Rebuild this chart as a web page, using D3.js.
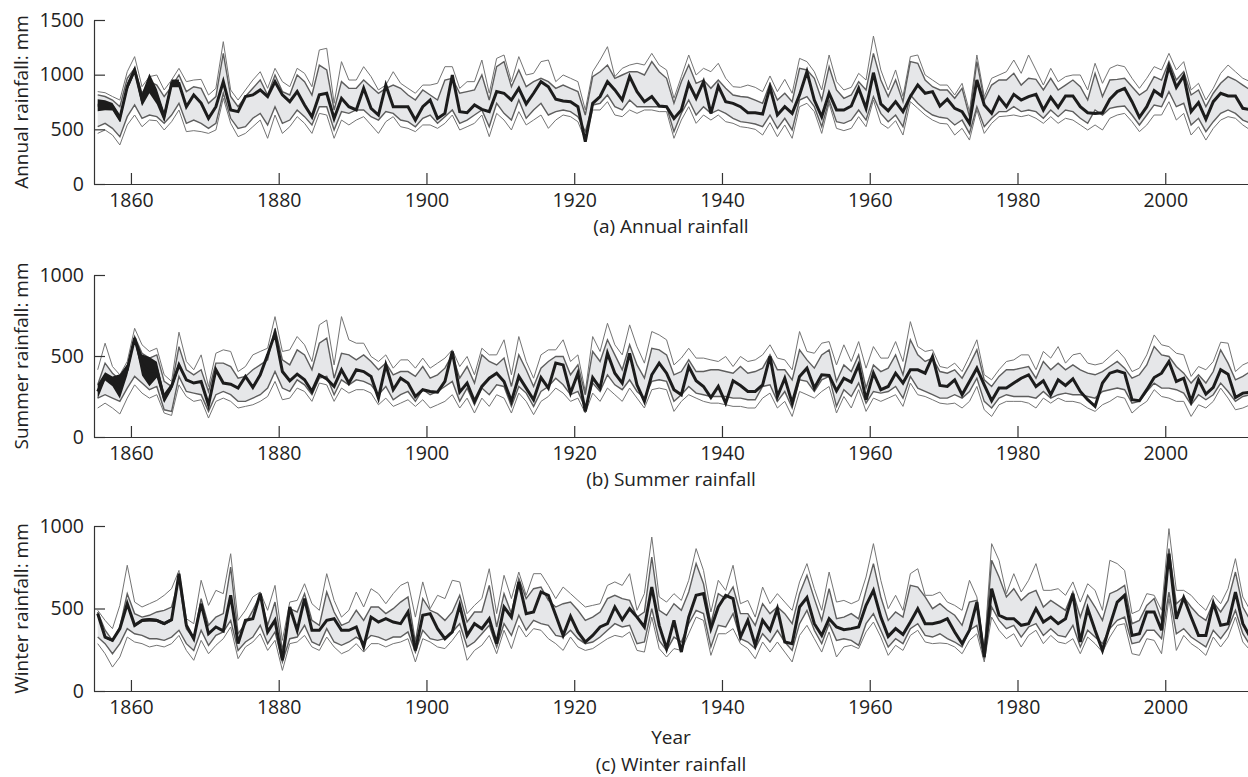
<!DOCTYPE html>
<html lang="en">

<head>
    <meta charset="UTF-8">
    <title>Rainfall reconstructions</title>
    <script src="https://d3js.org/d3.v7.min.js"></script>
    <style>
        body { margin: 0; background: #fff; }
        svg { display: block; font-family: "Open Sans", sans-serif; }
        .band { fill: #e6e7e9; stroke: none; }
        .outer { fill: none; stroke: #747474; stroke-width: 1; }
        .inner { fill: none; stroke: #5e5e5e; stroke-width: 1.4; }
        .obs { fill: none; stroke: #1c1c1c; stroke-width: 3; }
        .spread { fill: #1c1c1c; stroke: none; }
        .axis path, .axis line { stroke: #333; stroke-width: 1.2; }
        .axis text { fill: #222; font-family: "Open Sans", sans-serif; }
        .label { font-size: 19px; fill: #222; }
    </style>
</head>

<body>
    <script>
        // Years 1855-2011, each value plotted at the middle of its year
        var firstYear = 1855;
        var xTicks = [1860, 1880, 1900, 1920, 1940, 1960, 1980, 2000];
        var annualTicks = [0, 500, 1000, 1500];
        var seasonTicks = [0, 500, 1000];

        // (a) Annual rainfall, mm
        var annualObs = [
            720, 720, 707, 600, 890, 1043, 770, 920, 800, 615,
            920, 920, 707, 815, 740, 600, 707, 936, 677, 662,
            800, 815, 860, 800, 936, 815, 753, 845, 723, 615,
            815, 830, 600, 784, 707, 677, 875, 692, 631, 905,
            707, 707, 707, 585, 707, 768, 600, 646, 997, 662,
            652, 723, 683, 662, 845, 830, 768, 875, 732, 830,
            936, 890, 775, 760, 753, 707, 387, 738, 800, 936,
            860, 768, 982, 845, 753, 800, 713, 707, 600, 677,
            920, 784, 936, 646, 896, 753, 738, 707, 652, 652,
            640, 884, 631, 707, 646, 815, 1027, 768, 615, 830,
            677, 677, 713, 875, 692, 1018, 732, 670, 753, 662,
            800, 905, 830, 845, 713, 775, 692, 662, 555, 951,
            723, 646, 793, 707, 820, 768, 800, 820, 677, 793,
            701, 805, 805, 707, 652, 646, 652, 775, 845, 875,
            753, 610, 707, 854, 805, 1073, 884, 988, 662, 744,
            592, 753, 830, 805, 805, 692, 680
        ];
        var annualSpread = [55, 45, 35, 35, 35, 30, 60, 90, 70, 45, 35, 35];
        var annualHi = [
            845, 835, 800, 768, 1027, 1165, 890, 982, 997, 860,
            951, 1058, 936, 951, 957, 814, 875, 1302, 860, 768,
            860, 951, 1027, 875, 1058, 936, 890, 1058, 1012, 890,
            1226, 1241, 738, 1119, 951, 951, 1073, 982, 860, 905,
            1027, 921, 875, 830, 905, 905, 921, 1073, 1073, 875,
            936, 936, 1134, 830, 1149, 1180, 936, 1165, 997, 1012,
            1119, 1134, 936, 997, 967, 936, 677, 1027, 1134, 1256,
            982, 1058, 1088, 1104, 1088, 1195, 1088, 1043, 784, 982,
            1180, 997, 1058, 1027, 1104, 967, 890, 884, 905, 884,
            845, 988, 845, 957, 830, 1149, 1119, 1027, 860, 1180,
            936, 860, 884, 1012, 951, 1353, 1043, 860, 1043, 800,
            1165, 1180, 997, 951, 905, 905, 814, 921, 662, 1180,
            800, 967, 997, 1027, 1134, 1012, 1180, 1043, 905, 1058,
            936, 982, 997, 997, 860, 1104, 921, 1058, 1088, 1073,
            967, 875, 967, 1073, 1043, 1195, 1043, 1119, 860, 921,
            768, 875, 1012, 1088, 1027, 967, 936
        ];
        var annualQ75 = [
            815, 800, 768, 707, 967, 1058, 830, 936, 905, 800,
            890, 997, 845, 890, 875, 738, 800, 1195, 800, 707,
            800, 875, 951, 814, 997, 845, 814, 997, 936, 814,
            1088, 1043, 677, 936, 875, 875, 951, 890, 830, 875,
            905, 875, 814, 768, 860, 814, 768, 951, 967, 830,
            845, 860, 997, 768, 1073, 1119, 890, 1043, 890, 936,
            967, 936, 875, 905, 875, 845, 631, 982, 1027, 1088,
            967, 997, 1027, 1027, 997, 1119, 1027, 967, 738, 936,
            1088, 921, 951, 875, 951, 875, 814, 800, 793, 768,
            738, 921, 768, 830, 753, 1058, 1043, 967, 768, 1073,
            860, 784, 814, 936, 860, 1195, 951, 800, 951, 753,
            1119, 1104, 951, 890, 860, 860, 784, 875, 616, 1119,
            768, 905, 951, 951, 1012, 905, 967, 957, 860, 967,
            860, 905, 951, 890, 768, 1012, 800, 951, 957, 967,
            890, 814, 860, 982, 951, 1119, 951, 1027, 814, 860,
            707, 830, 921, 982, 951, 905, 860
        ];
        var annualQ25 = [
            525, 555, 509, 433, 616, 723, 600, 631, 616, 555,
            631, 738, 555, 585, 555, 509, 555, 830, 601, 509,
            524, 601, 646, 540, 707, 555, 585, 677, 616, 540,
            707, 707, 494, 662, 646, 677, 677, 616, 585, 662,
            646, 585, 570, 524, 601, 631, 555, 616, 677, 555,
            585, 631, 677, 524, 738, 646, 585, 768, 601, 677,
            738, 631, 662, 677, 662, 616, 479, 723, 738, 814,
            707, 677, 768, 707, 707, 707, 707, 707, 479, 646,
            768, 631, 707, 646, 677, 646, 601, 570, 561, 549,
            524, 631, 509, 601, 494, 768, 799, 707, 524, 768,
            570, 555, 585, 677, 585, 799, 646, 570, 631, 524,
            814, 738, 677, 631, 610, 601, 540, 585, 463, 707,
            524, 601, 662, 662, 707, 662, 677, 662, 601, 677,
            616, 677, 662, 601, 555, 677, 631, 692, 707, 713,
            631, 540, 631, 723, 707, 845, 707, 738, 540, 601,
            479, 570, 646, 677, 646, 585, 555
        ];
        var annualLo = [
            463, 494, 448, 357, 540, 631, 524, 585, 579, 494,
            570, 677, 479, 488, 479, 463, 494, 784, 555, 433,
            463, 524, 585, 418, 631, 463, 524, 616, 555, 463,
            646, 631, 418, 585, 540, 585, 616, 540, 463, 570,
            616, 524, 509, 479, 540, 540, 509, 555, 631, 494,
            524, 555, 631, 433, 646, 585, 494, 662, 540, 585,
            631, 509, 585, 631, 616, 570, 402, 677, 677, 753,
            631, 616, 677, 646, 677, 677, 662, 662, 418, 585,
            707, 555, 631, 585, 631, 570, 555, 524, 515, 500,
            448, 561, 433, 540, 418, 707, 738, 662, 463, 738,
            509, 488, 509, 616, 524, 768, 555, 509, 579, 448,
            753, 692, 631, 585, 555, 549, 448, 509, 402, 677,
            463, 555, 616, 622, 631, 616, 631, 601, 555, 616,
            555, 601, 585, 540, 494, 540, 494, 601, 631, 646,
            570, 479, 540, 631, 631, 753, 585, 646, 448, 524,
            402, 509, 585, 616, 601, 540, 494
        ];

        // (b) Summer rainfall, mm
        var summerObs = [
            281, 374, 343, 312, 415, 610, 445, 404, 415, 240,
            312, 445, 353, 333, 343, 199, 415, 333, 326, 302,
            374, 306, 384, 507, 640, 404, 347, 388, 353, 281,
            384, 359, 312, 415, 333, 415, 404, 374, 240, 445,
            292, 363, 333, 250, 292, 281, 277, 343, 528, 277,
            333, 220, 312, 363, 394, 343, 220, 374, 302, 230,
            367, 302, 456, 445, 271, 394, 158, 367, 302, 517,
            394, 333, 517, 322, 220, 384, 456, 394, 292, 261,
            435, 347, 312, 244, 312, 209, 347, 318, 281, 281,
            322, 497, 250, 363, 209, 374, 425, 302, 384, 380,
            285, 363, 339, 445, 230, 394, 292, 312, 394, 333,
            415, 415, 394, 497, 318, 312, 353, 261, 343, 425,
            322, 224, 302, 302, 333, 363, 384, 312, 347, 261,
            353, 318, 359, 281, 230, 189, 333, 394, 409, 394,
            230, 224, 292, 367, 394, 466, 343, 363, 220, 353,
            265, 306, 415, 388, 244, 271, 277
        ];
        var summerSpread = [45, 25, 30, 75, 35, 15, 65, 90, 50, 30, 20, 20];
        var summerHi = [
            415, 579, 435, 384, 466, 671, 569, 528, 548, 384,
            343, 647, 466, 415, 507, 312, 517, 538, 528, 404,
            435, 507, 528, 548, 743, 528, 538, 620, 569, 466,
            692, 722, 445, 743, 600, 579, 579, 497, 466, 507,
            425, 476, 476, 425, 487, 425, 456, 487, 538, 435,
            497, 384, 548, 507, 507, 600, 384, 620, 466, 363,
            507, 538, 538, 600, 466, 507, 281, 620, 528, 702,
            569, 507, 692, 558, 456, 651, 630, 600, 445, 487,
            548, 487, 487, 476, 466, 497, 435, 497, 466, 476,
            507, 569, 487, 476, 415, 651, 528, 517, 579, 589,
            445, 569, 466, 589, 425, 558, 487, 487, 589, 466,
            712, 558, 528, 538, 435, 425, 456, 404, 497, 600,
            384, 353, 415, 466, 476, 507, 507, 415, 528, 487,
            558, 456, 507, 517, 456, 445, 456, 497, 538, 487,
            404, 425, 507, 630, 569, 558, 517, 507, 374, 435,
            415, 466, 585, 579, 404, 445, 466
        ];
        var summerQ75 = [
            322, 456, 394, 353, 425, 620, 517, 487, 507, 343,
            312, 558, 415, 384, 415, 281, 456, 456, 435, 363,
            374, 415, 445, 476, 671, 476, 445, 538, 507, 415,
            579, 610, 363, 517, 507, 476, 507, 466, 415, 456,
            384, 404, 404, 374, 435, 363, 384, 425, 507, 363,
            435, 333, 507, 466, 445, 487, 312, 507, 415, 312,
            425, 466, 497, 497, 384, 445, 261, 528, 466, 600,
            507, 415, 569, 445, 363, 548, 538, 507, 384, 404,
            476, 404, 404, 415, 415, 404, 394, 435, 394, 404,
            425, 507, 415, 415, 353, 538, 476, 425, 507, 538,
            343, 445, 404, 507, 302, 445, 404, 425, 507, 384,
            600, 507, 466, 487, 404, 394, 415, 363, 445, 538,
            353, 312, 374, 415, 415, 425, 435, 363, 466, 415,
            456, 415, 445, 415, 394, 384, 404, 435, 466, 425,
            363, 384, 445, 558, 507, 497, 435, 394, 333, 384,
            333, 404, 538, 456, 353, 374, 404
        ];
        var summerQ25 = [
            240, 261, 240, 220, 302, 374, 333, 292, 312, 168,
            158, 374, 281, 271, 261, 158, 261, 281, 261, 220,
            220, 240, 261, 302, 404, 302, 281, 353, 322, 261,
            363, 374, 261, 353, 322, 353, 343, 322, 261, 312,
            230, 261, 281, 220, 292, 261, 281, 312, 343, 220,
            302, 199, 302, 261, 322, 312, 189, 312, 271, 189,
            281, 312, 363, 322, 261, 281, 179, 333, 281, 384,
            322, 292, 353, 281, 240, 343, 353, 343, 220, 261,
            312, 271, 261, 250, 250, 250, 240, 240, 230, 230,
            312, 322, 220, 281, 179, 353, 343, 281, 353, 374,
            189, 292, 250, 333, 209, 281, 271, 281, 312, 240,
            374, 302, 281, 261, 240, 240, 261, 240, 281, 363,
            220, 179, 240, 261, 250, 250, 250, 240, 281, 240,
            261, 271, 261, 261, 250, 240, 281, 292, 302, 292,
            209, 220, 281, 333, 302, 302, 292, 271, 199, 261,
            230, 261, 333, 281, 220, 250, 261
        ];
        var summerLo = [
            179, 209, 179, 142, 240, 322, 271, 240, 261, 148,
            133, 322, 250, 220, 230, 117, 220, 240, 220, 179,
            189, 199, 220, 250, 343, 230, 240, 302, 281, 220,
            333, 322, 220, 302, 271, 292, 292, 271, 199, 240,
            189, 209, 230, 189, 230, 179, 199, 220, 261, 179,
            240, 148, 240, 189, 261, 240, 148, 271, 220, 138,
            220, 250, 302, 271, 220, 240, 148, 271, 220, 302,
            261, 220, 302, 240, 179, 292, 302, 292, 158, 220,
            261, 240, 220, 209, 209, 199, 189, 189, 179, 179,
            240, 271, 179, 220, 127, 281, 261, 240, 281, 312,
            148, 250, 179, 292, 158, 240, 220, 240, 261, 189,
            333, 261, 250, 230, 209, 203, 209, 179, 220, 312,
            168, 127, 199, 220, 220, 220, 209, 179, 240, 209,
            240, 220, 220, 209, 179, 158, 199, 220, 250, 240,
            148, 189, 220, 292, 250, 240, 220, 220, 127, 199,
            179, 220, 302, 240, 168, 179, 199
        ];

        // (c) Winter rainfall, mm
        var winterObs = [
            469, 327, 307, 378, 529, 398, 428, 432, 428, 408,
            432, 711, 398, 317, 529, 347, 388, 364, 580, 287,
            428, 438, 590, 358, 428, 186, 509, 368, 560, 368,
            368, 428, 438, 368, 368, 388, 267, 448, 418, 438,
            418, 408, 479, 246, 459, 469, 378, 317, 358, 519,
            337, 408, 378, 438, 287, 509, 448, 661, 469, 479,
            600, 580, 459, 337, 453, 358, 297, 337, 388, 408,
            509, 432, 499, 448, 388, 630, 398, 257, 428, 236,
            448, 580, 590, 378, 509, 580, 560, 327, 428, 277,
            428, 368, 499, 297, 287, 509, 566, 408, 337, 438,
            388, 372, 378, 388, 519, 610, 448, 331, 378, 343,
            418, 499, 408, 408, 418, 438, 358, 287, 368, 539,
            206, 620, 459, 438, 438, 398, 408, 499, 418, 448,
            408, 438, 590, 297, 499, 368, 246, 398, 539, 580,
            337, 347, 479, 479, 368, 832, 438, 566, 448, 337,
            337, 533, 398, 408, 600, 408, 327
        ];
        var winterSpread = [8, 8, 8, 8, 8, 8, 10, 10, 10, 10, 10, 8];
        var winterHi = [
            489, 428, 378, 519, 762, 539, 509, 529, 549, 580,
            620, 731, 438, 408, 671, 519, 610, 590, 832, 428,
            489, 570, 600, 489, 640, 307, 539, 549, 650, 529,
            489, 711, 549, 448, 489, 600, 509, 620, 590, 529,
            590, 640, 661, 448, 661, 499, 580, 560, 671, 661,
            469, 519, 560, 741, 469, 701, 560, 721, 580, 711,
            711, 640, 560, 630, 590, 549, 509, 519, 529, 640,
            661, 640, 711, 489, 590, 933, 570, 539, 590, 549,
            671, 863, 731, 479, 671, 610, 762, 529, 549, 448,
            630, 529, 590, 539, 489, 661, 772, 620, 489, 721,
            539, 549, 529, 549, 691, 893, 671, 499, 580, 489,
            711, 741, 580, 580, 600, 539, 519, 489, 671, 570,
            246, 893, 792, 590, 711, 600, 671, 772, 610, 610,
            620, 580, 661, 539, 650, 610, 489, 792, 772, 731,
            469, 489, 590, 580, 489, 984, 610, 610, 580, 529,
            489, 580, 529, 620, 802, 570, 489
        ];
        var winterQ75 = [
            479, 368, 307, 388, 590, 469, 448, 459, 479, 489,
            509, 671, 378, 317, 560, 398, 448, 469, 751, 347,
            408, 489, 580, 398, 539, 246, 499, 479, 590, 428,
            398, 600, 479, 398, 418, 489, 428, 509, 509, 469,
            499, 539, 570, 297, 560, 489, 469, 428, 479, 580,
            418, 479, 479, 640, 388, 590, 469, 681, 560, 620,
            630, 549, 509, 529, 539, 489, 428, 448, 479, 560,
            580, 560, 549, 448, 479, 812, 489, 459, 529, 489,
            600, 772, 650, 408, 590, 560, 630, 469, 469, 398,
            529, 469, 509, 469, 408, 590, 701, 560, 428, 620,
            438, 448, 469, 438, 610, 772, 570, 428, 479, 448,
            640, 630, 570, 499, 529, 489, 459, 398, 539, 549,
            236, 792, 691, 570, 620, 549, 590, 610, 509, 549,
            519, 489, 600, 448, 580, 509, 428, 590, 610, 640,
            408, 428, 519, 560, 428, 863, 529, 570, 509, 459,
            428, 539, 479, 549, 721, 509, 428
        ];
        var winterQ25 = [
            327, 287, 226, 287, 378, 347, 337, 317, 317, 307,
            327, 368, 287, 246, 368, 277, 337, 358, 428, 246,
            297, 327, 398, 287, 358, 176, 317, 327, 398, 297,
            277, 378, 297, 277, 297, 327, 297, 337, 327, 307,
            327, 327, 358, 236, 368, 317, 307, 317, 358, 408,
            267, 297, 347, 398, 267, 408, 337, 459, 368, 428,
            408, 398, 337, 327, 368, 317, 287, 297, 327, 368,
            408, 388, 398, 287, 297, 499, 307, 246, 327, 297,
            408, 489, 469, 267, 398, 388, 469, 317, 297, 257,
            347, 297, 368, 297, 246, 408, 489, 368, 287, 408,
            307, 317, 307, 277, 408, 469, 368, 267, 317, 287,
            378, 408, 337, 327, 347, 317, 297, 267, 368, 398,
            196, 509, 428, 378, 398, 327, 388, 408, 337, 378,
            337, 327, 398, 267, 368, 327, 287, 378, 428, 448,
            287, 297, 368, 368, 317, 600, 347, 378, 327, 297,
            267, 368, 317, 378, 489, 347, 277
        ];
        var winterLo = [
            287, 226, 145, 206, 327, 297, 287, 267, 277, 267,
            287, 337, 246, 186, 307, 226, 277, 317, 388, 196,
            267, 297, 347, 246, 307, 125, 287, 297, 337, 267,
            246, 327, 267, 226, 246, 287, 236, 287, 287, 267,
            287, 297, 317, 176, 317, 297, 267, 257, 307, 368,
            186, 246, 277, 337, 226, 368, 257, 398, 327, 378,
            368, 317, 287, 246, 327, 267, 246, 257, 287, 317,
            337, 327, 358, 246, 236, 448, 257, 206, 257, 246,
            347, 448, 428, 216, 347, 347, 378, 287, 257, 196,
            297, 236, 297, 236, 176, 337, 398, 317, 236, 358,
            206, 267, 277, 257, 358, 418, 327, 216, 277, 246,
            337, 368, 297, 287, 291, 287, 267, 226, 307, 347,
            176, 448, 368, 317, 347, 267, 337, 368, 287, 337,
            297, 287, 317, 226, 327, 287, 236, 327, 398, 408,
            226, 216, 317, 307, 226, 560, 246, 337, 287, 257,
            216, 327, 267, 327, 448, 297, 246
        ];

        var width = 1248, height = 777;
        var left = 94;

        var panels = [
            { obs: annualObs, spread: annualSpread, hi: annualHi, q75: annualQ75, q25: annualQ25, lo: annualLo,
              max: 1500, ticks: annualTicks, top: 20, bottom: 184,
              ylabel: "Annual rainfall: mm", captions: [["(a) Annual rainfall", 49]] },
            { obs: summerObs, spread: summerSpread, hi: summerHi, q75: summerQ75, q25: summerQ25, lo: summerLo,
              max: 1000, ticks: seasonTicks, top: 275, bottom: 437,
              ylabel: "Summer rainfall: mm", captions: [["(b) Summer rainfall", 49]] },
            { obs: winterObs, spread: winterSpread, hi: winterHi, q75: winterQ75, q25: winterQ25, lo: winterLo,
              max: 1000, ticks: seasonTicks, top: 526, bottom: 691,
              ylabel: "Winter rainfall: mm", captions: [["Year", 53], ["(c) Winter rainfall", 80]] }
        ];

        var x = d3.scaleLinear()
            .domain([1855, 2011.2])
            .range([left, width]);

        var svg = d3.select("body")
            .append("svg")
            .attr("width", width)
            .attr("height", height);

        panels.forEach(function (p) {
            var y = d3.scaleLinear()
                .domain([0, p.max])
                .range([p.bottom, p.top]);

            var rows = p.obs.map(function (v, i) {
                return {
                    t: firstYear + i + 0.5,
                    obs: v, hi: p.hi[i], q75: p.q75[i], q25: p.q25[i], lo: p.lo[i],
                    spread: p.spread[i]
                };
            });

            var g = svg.append("g");

            // interquartile band
            g.append("path")
                .datum(rows)
                .attr("class", "band")
                .attr("d", d3.area()
                    .x(function (d) { return x(d.t); })
                    .y0(function (d) { return y(d.q25); })
                    .y1(function (d) { return y(d.q75); }));

            // outer envelope
            ["hi", "lo"].forEach(function (k) {
                g.append("path")
                    .datum(rows)
                    .attr("class", "outer")
                    .attr("d", d3.line()
                        .x(function (d) { return x(d.t); })
                        .y(function (d) { return y(d[k]); }));
            });

            // quartile lines
            ["q75", "q25"].forEach(function (k) {
                g.append("path")
                    .datum(rows)
                    .attr("class", "inner")
                    .attr("d", d3.line()
                        .x(function (d) { return x(d.t); })
                        .y(function (d) { return y(d[k]); }));
            });

            // observed series, with its spread in the early years
            g.append("path")
                .datum(rows.filter(function (d) { return d.spread !== undefined; }))
                .attr("class", "spread")
                .attr("d", d3.area()
                    .x(function (d) { return x(d.t); })
                    .y0(function (d) { return y(d.obs - d.spread); })
                    .y1(function (d) { return y(d.obs + d.spread); }));

            g.append("path")
                .datum(rows)
                .attr("class", "obs")
                .attr("d", d3.line()
                    .x(function (d) { return x(d.t); })
                    .y(function (d) { return y(d.obs); }));

            // axes
            g.append("g")
                .attr("class", "axis")
                .attr("transform", "translate(" + left + ",0)")
                .call(d3.axisLeft(y)
                    .tickValues(p.ticks)
                    .tickFormat(d3.format("d"))
                    .tickSizeInner(-11)
                    .tickSizeOuter(0)
                    .tickPadding(10));

            g.append("g")
                .attr("class", "axis")
                .attr("transform", "translate(0," + p.bottom + ")")
                .call(d3.axisBottom(x)
                    .tickValues(xTicks)
                    .tickFormat(d3.format("d"))
                    .tickSizeInner(-11)
                    .tickSizeOuter(0)
                    .tickPadding(9));

            g.selectAll(".axis text").style("font-size", "19.5px");

            g.append("text")
                .attr("class", "label")
                .attr("transform", "translate(28," + (p.top + p.bottom) / 2 + ") rotate(-90)")
                .attr("text-anchor", "middle")
                .text(p.ylabel);

            p.captions.forEach(function (c) {
                g.append("text")
                    .attr("class", "label")
                    .attr("x", (left + width) / 2)
                    .attr("y", p.bottom + c[1])
                    .attr("text-anchor", "middle")
                    .text(c[0]);
            });
        });
    </script>
</body>
</html>
